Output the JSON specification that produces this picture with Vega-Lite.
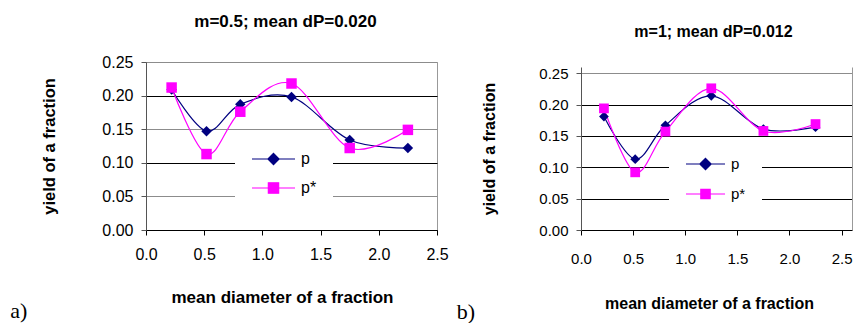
{
  "$schema": "https://vega.github.io/schema/vega-lite/v6.json",
  "background": "white",
  "padding": {"left": 10, "top": 12, "right": 0, "bottom": 0},
  "spacing": 7,
  "columns": 2,
  "resolve": {"scale": {"color": "independent", "shape": "independent", "x": "independent", "y": "independent"}, "legend": {"color": "independent", "shape": "independent"}},
  "datasets": {
    "left": [
      {"diameter": 0.22, "yield": 0.209, "series": "p"},
      {"diameter": 0.52, "yield": 0.147, "series": "p"},
      {"diameter": 0.81, "yield": 0.187, "series": "p"},
      {"diameter": 1.25, "yield": 0.198, "series": "p"},
      {"diameter": 1.75, "yield": 0.134, "series": "p"},
      {"diameter": 2.25, "yield": 0.122, "series": "p"},
      {"diameter": 0.22, "yield": 0.212, "series": "p*"},
      {"diameter": 0.52, "yield": 0.113, "series": "p*"},
      {"diameter": 0.81, "yield": 0.176, "series": "p*"},
      {"diameter": 1.25, "yield": 0.218, "series": "p*"},
      {"diameter": 1.75, "yield": 0.122, "series": "p*"},
      {"diameter": 2.25, "yield": 0.149, "series": "p*"}
    ],
    "right": [
      {"diameter": 0.22, "yield": 0.181, "series": "p"},
      {"diameter": 0.52, "yield": 0.113, "series": "p"},
      {"diameter": 0.81, "yield": 0.167, "series": "p"},
      {"diameter": 1.25, "yield": 0.214, "series": "p"},
      {"diameter": 1.75, "yield": 0.161, "series": "p"},
      {"diameter": 2.25, "yield": 0.164, "series": "p"},
      {"diameter": 0.22, "yield": 0.194, "series": "p*"},
      {"diameter": 0.52, "yield": 0.092, "series": "p*"},
      {"diameter": 0.81, "yield": 0.157, "series": "p*"},
      {"diameter": 1.25, "yield": 0.226, "series": "p*"},
      {"diameter": 1.75, "yield": 0.158, "series": "p*"},
      {"diameter": 2.25, "yield": 0.169, "series": "p*"}
    ]
  },
  "concat": [
    {
      "title": {"text": "a)", "orient": "bottom", "anchor": "start", "frame": "bounds", "font": "Liberation Serif", "fontWeight": "normal", "fontSize": 22, "dx": -31, "offset": -5},
      "vconcat": [
        {
          "width": 291,
          "height": 168,
          "title": {"text": "m=0.5; mean dP=0.020", "fontSize": 17, "offset": 23, "dx": -6},
          "data": {"name": "left"},
          "encoding": {
            "x": {"field": "diameter", "type": "quantitative", "scale": {"domain": [0, 2.5]},
              "axis": {"values": [0, 0.5, 1, 1.5, 2, 2.5], "format": ".1f", "title": "mean diameter of a  fraction", "grid": false, "labelFontSize": 16, "titleFontSize": 17, "labelPadding": 11, "titlePadding": 27, "titleX": 136, "domainColor": "#000", "tickColor": "#000"}},
            "y": {"field": "yield", "type": "quantitative", "scale": {"domain": [0, 0.25]},
              "axis": {"values": [0, 0.05, 0.1, 0.15, 0.2, 0.25], "format": ".2f", "title": "yield of a fraction", "labelFontSize": 16, "titleFontSize": 16.5, "labelPadding": 8, "titlePadding": 44, "domainColor": "#555", "tickColor": "#555",
                "gridColor": {"condition": {"test": "datum.value === 0.05 || datum.value === 0.15 || datum.value === 0.25", "value": "#8c8c8c"}, "value": "#000"}}},
            "color": {"field": "series", "type": "nominal", "scale": {"domain": ["p", "p*"], "range": ["#000080", "#FF00FF"]},
              "legend": {"title": null, "orient": "none", "legendX": 89, "legendY": 73, "fillColor": "white", "padding": 16, "clipHeight": 16, "symbolSize": 1849, "labelFontSize": 16, "labelOffset": 5, "rowPadding": 13, "symbolStrokeWidth": 1.2, "symbolOpacity": 1}}
          },
          "layer": [
            {"mark": {"type": "line", "interpolate": "cardinal", "strokeWidth": 1.2}},
            {"transform": [{"filter": "datum.series === 'p'"}], "mark": {"type": "point", "shape": "diamond", "filled": true, "opacity": 1, "size": 110}},
            {"transform": [{"filter": "datum.series === 'p*'"}], "mark": {"type": "point", "shape": "square", "filled": true, "opacity": 1, "size": 110}},
            {"mark": {"type": "point", "filled": true, "opacity": 0},
              "encoding": {"shape": {"field": "series", "type": "nominal", "scale": {"domain": ["p", "p*"], "range": ["M-1,0L1,0M0,-0.26L0.26,0L0,0.26L-0.26,0Z", "M-1,0L1,0M-0.24,-0.24L0.24,-0.24L0.24,0.24L-0.24,0.24Z"]},
                "legend": {"title": null, "orient": "none", "legendX": 89, "legendY": 73, "fillColor": "white", "padding": 16, "clipHeight": 16, "symbolSize": 1849, "labelFontSize": 16, "labelOffset": 5, "rowPadding": 13, "symbolStrokeWidth": 1.2, "symbolOpacity": 1}}}}
          ]
        }
      ]
    },
    {
      "title": {"text": "b)", "orient": "bottom", "anchor": "start", "frame": "bounds", "font": "Liberation Serif", "fontWeight": "normal", "fontSize": 22, "dx": -25, "offset": -9},
      "vconcat": [
        {
          "width": 271,
          "height": 168,
          "title": {"text": ["", "m=1; mean dP=0.012"], "lineHeight": 9, "fontSize": 16, "offset": 22, "dx": -3},
          "view": {"stroke": null},
          "data": {"name": "right"},
          "resolve": {"axis": {"y": "independent"}},
          "layer": [
            {
              "encoding": {
                "x": {"field": "diameter", "type": "quantitative", "scale": {"domain": [0, 2.5]},
                  "axis": {"values": [0, 0.5, 1, 1.5, 2, 2.5], "format": ".1f", "title": "mean diameter of a fraction", "grid": false, "labelFontSize": 15, "titleFontSize": 16, "labelPadding": 16, "titlePadding": 29, "titleX": 128, "domainColor": "#000", "tickColor": "#000"}},
                "y": {"field": "yield", "type": "quantitative", "scale": {"domain": [0, 0.25], "range": [168, 5]},
                  "axis": {"values": [0, 0.05, 0.1, 0.15, 0.2, 0.25], "format": ".2f", "title": "yield of a fraction", "labelFontSize": 15, "titleFontSize": 16, "labelPadding": 8, "titlePadding": 41, "domainColor": "#555", "tickColor": "#555",
                    "gridColor": {"condition": {"test": "datum.value === 0.25", "value": "#8c8c8c"}, "value": "#000"}}},
                "color": {"field": "series", "type": "nominal", "scale": {"domain": ["p", "p*"], "range": ["#000080", "#FF00FF"]},
                  "legend": {"title": null, "orient": "none", "legendX": 88, "legendY": 78, "fillColor": "white", "padding": 16, "clipHeight": 16, "symbolSize": 1521, "labelFontSize": 15, "labelOffset": 5, "rowPadding": 14, "symbolStrokeWidth": 1.2, "symbolOpacity": 1}}
              },
              "layer": [
                {"mark": {"type": "line", "interpolate": "cardinal", "strokeWidth": 1.2}},
                {"transform": [{"filter": "datum.series === 'p'"}], "mark": {"type": "point", "shape": "diamond", "filled": true, "opacity": 1, "size": 95}},
                {"transform": [{"filter": "datum.series === 'p*'"}], "mark": {"type": "point", "shape": "square", "filled": true, "opacity": 1, "size": 95}},
                {"mark": {"type": "point", "filled": true, "opacity": 0},
                  "encoding": {"shape": {"field": "series", "type": "nominal", "scale": {"domain": ["p", "p*"], "range": ["M-1,0L1,0M0,-0.29L0.29,0L0,0.29L-0.29,0Z", "M-1,0L1,0M-0.24,-0.24L0.24,-0.24L0.24,0.24L-0.24,0.24Z"]},
                    "legend": {"title": null, "orient": "none", "legendX": 88, "legendY": 78, "fillColor": "white", "padding": 16, "clipHeight": 16, "symbolSize": 1521, "labelFontSize": 15, "labelOffset": 5, "rowPadding": 14, "symbolStrokeWidth": 1.2, "symbolOpacity": 1}}}}
              ]
            },
            {
              "mark": {"type": "point", "opacity": 0},
              "encoding": {
                "x": {"field": "diameter", "type": "quantitative"},
                "y": {"field": "yield", "type": "quantitative", "axis": {"orient": "right", "labels": false, "ticks": false, "grid": false, "title": null, "domainColor": "#999", "domainWidth": 1}}
              }
            }
          ]
        }
      ]
    }
  ],
  "config": {
    "font": "Liberation Sans",
    "view": {"stroke": "#999", "strokeWidth": 1},
    "title": {"font": "Liberation Sans", "fontWeight": "bold", "color": "#000", "anchor": "middle"},
    "axis": {"labelFont": "Liberation Sans", "titleFont": "Liberation Sans", "labelColor": "#000", "titleColor": "#000", "titleFontWeight": "bold", "tickSize": 5, "labelOverlap": false, "labelFlush": false, "gridWidth": 1},
    "legend": {"labelFont": "Liberation Sans", "labelColor": "#000"}
  }
}
